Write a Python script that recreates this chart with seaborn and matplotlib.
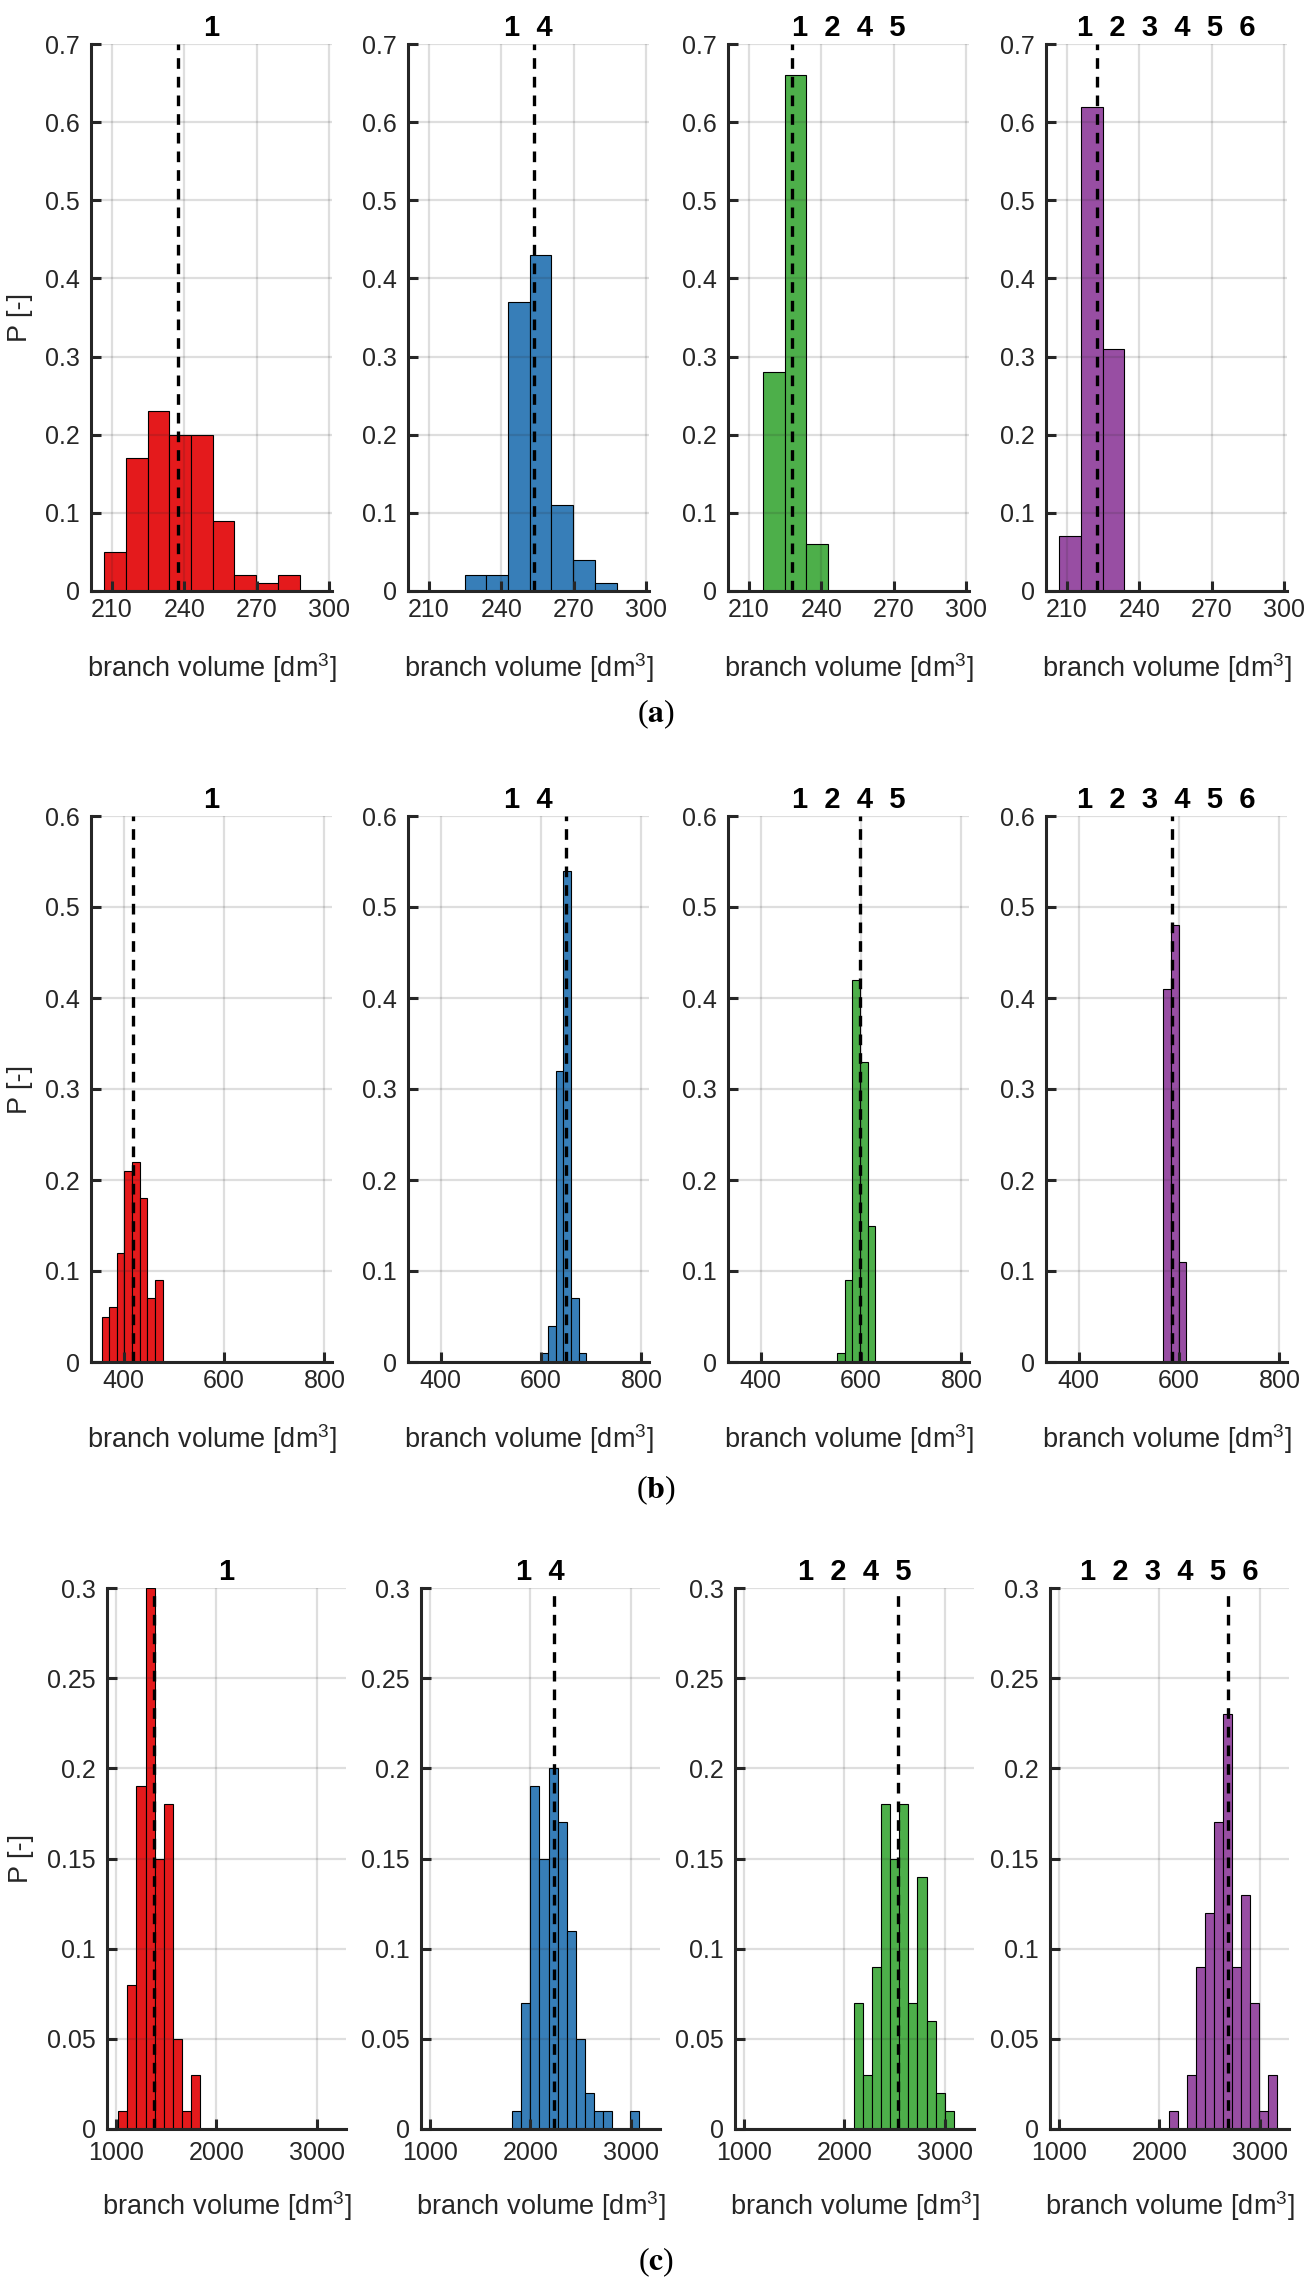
import numpy as np
import pandas as pd
import matplotlib
matplotlib.use("Agg")
import matplotlib.pyplot as plt
from matplotlib.ticker import FuncFormatter
import seaborn as sns

# colours of the four cases (one per column)
colors = ["#E41A1C", "#377EB8", "#4DAF4A", "#984EA3"]
panel_titles = ["1", "1  4", "1  2  4  5", "1  2  3  4  5  6"]
row_tags = ["a", "b", "c"]

# row (a): branch volume histograms
a_bin_start = [206.7, 224.7, 215.7, 206.7]
a_bin_width = 9.0
a_prob = [
    [0.05, 0.17, 0.23, 0.20, 0.20, 0.09, 0.02, 0.01, 0.02],
    [0.02, 0.02, 0.37, 0.43, 0.11, 0.04, 0.01],
    [0.28, 0.66, 0.06],
    [0.07, 0.62, 0.31],
]
a_mean = [237.4, 253.5, 227.6, 222.6]
a_xlim = (201.3, 301.1)
a_xticks = [210, 240, 270, 300]
a_yticks = [0, 0.1, 0.2, 0.3, 0.4, 0.5, 0.6, 0.7]

# row (b)
b_bin_start = [356.0, 599.0, 552.5, 569.0]
b_bin_width = 15.2
b_prob = [
    [0.05, 0.06, 0.12, 0.21, 0.22, 0.18, 0.07, 0.09],
    [0.01, 0.04, 0.32, 0.54, 0.07, 0.01],
    [0.01, 0.09, 0.42, 0.33, 0.15],
    [0.41, 0.48, 0.11],
]
b_mean = [419.4, 649.6, 598.3, 586.8]
b_xlim = (335, 815)
b_xticks = [400, 600, 800]
b_yticks = [0, 0.1, 0.2, 0.3, 0.4, 0.5, 0.6]

# row (c)
c_bin_start = [1025, 1820, 2096, 2093]
c_bin_width = 90.0
c_prob = [
    [0.01, 0.08, 0.19, 0.30, 0.15, 0.18, 0.05, 0.01, 0.03],
    [0.01, 0.07, 0.19, 0.15, 0.20, 0.17, 0.11, 0.05, 0.02, 0.01, 0.01, 0, 0, 0.01],
    [0.07, 0.03, 0.09, 0.18, 0.15, 0.18, 0.07, 0.14, 0.06, 0.02, 0.01],
    [0.01, 0, 0.03, 0.09, 0.12, 0.17, 0.23, 0.09, 0.13, 0.07, 0.01, 0.03],
]
c_mean = [1375, 2234, 2535, 2678]
c_xlim = (912, 3288)
c_xticks = [1000, 2000, 3000]
c_yticks = [0, 0.05, 0.1, 0.15, 0.2, 0.25, 0.3]

rows = [
    (a_bin_start, a_bin_width, a_prob, a_mean, a_xlim, a_xticks, a_yticks),
    (b_bin_start, b_bin_width, b_prob, b_mean, b_xlim, b_xticks, b_yticks),
    (c_bin_start, c_bin_width, c_prob, c_mean, c_xlim, c_xticks, c_yticks),
]

sns.set_theme(style="white")
plt.rcParams["font.family"] = ["Liberation Sans", "DejaVu Sans"]
plt.rcParams["mathtext.fontset"] = "custom"
plt.rcParams["mathtext.rm"] = "Liberation Sans"
plt.rcParams["mathtext.it"] = "Liberation Sans:italic"
plt.rcParams["mathtext.bf"] = "Liberation Sans:bold"

dark = "#262626"
W, H = 1313, 2284
fig = plt.figure(figsize=(W / 100, H / 100), dpi=100)

# axes boxes in pixels: (top, bottom) per row, left edges and width per row
row_tb = [(44, 591), (816, 1362), (1588, 2129)]
row_left = [[91, 408, 728, 1046], [91, 408, 728, 1046], [107, 421, 735, 1050]]
row_w = [241, 241, 239]
tag_y = [714, 1490, 2262]
xtick_pad = [5, 5, 8.5]   # the wide 1000 label needs to clear the y "0" label

for r, (start, width, prob, mean, xlim, xticks, yticks) in enumerate(rows):
    top, bot = row_tb[r]
    for c in range(4):
        left = row_left[r][c]
        ax = fig.add_axes([left / W, 1 - bot / H, row_w[r] / W, (bot - top) / H])
        edges = [start[c] + width * i for i in range(len(prob[c]) + 1)]
        df = pd.DataFrame({
            "volume": [(edges[i] + edges[i + 1]) / 2 for i in range(len(prob[c]))],
            "p": prob[c],
        })
        sns.histplot(data=df, x="volume", weights="p", bins=edges, color=colors[c],
                     alpha=1, edgecolor="black", linewidth=0.8, ax=ax)
        ax.axvline(mean[c], color="black", lw=2.4, ls=(0, (3.2, 2.4)), zorder=3)

        ax.set_xlim(*xlim)
        ax.set_ylim(0, yticks[-1])
        ax.set_xticks(xticks)
        ax.set_yticks(yticks)
        ax.yaxis.set_major_formatter(FuncFormatter(lambda v, p: f"{v:g}"))
        ax.grid(True, color=dark, alpha=0.15, linewidth=1.6)
        ax.set_axisbelow(False)
        sns.despine(ax=ax)
        for s in ["left", "bottom"]:
            ax.spines[s].set_visible(True)
            ax.spines[s].set_color(dark)
            ax.spines[s].set_linewidth(2.2)
            ax.spines[s].set_zorder(5)
        ax.tick_params(direction="in", length=7, width=2.2, color=dark,
                       labelcolor=dark, labelsize=18,
                       bottom=True, left=True, top=False, right=False)
        ax.tick_params(axis="x", pad=xtick_pad[r])
        ax.tick_params(axis="y", pad=8)

        ax.set_title(panel_titles[c], fontsize=21, fontweight="bold",
                     color="black", pad=6)
        ax.set_xlabel("branch volume [dm$^3$]", fontsize=19.5, color=dark)
        # label top placed a fixed distance below the axis in pixels
        ax.xaxis.set_label_coords(0.5, -60 / (bot - top))
        if c == 0:
            ax.set_ylabel("P [-]", fontsize=19.5, color=dark)
            ax.yaxis.set_label_coords(-0.24 - (left - 91) / row_w[r], 0.5)
        else:
            ax.set_ylabel("")

    fig.text(656 / W, 1 - tag_y[r] / H, f"($\\mathbf{{{row_tags[r]}}}$)",
             ha="center", va="center", fontsize=23, color="black",
             family="Liberation Serif", math_fontfamily="stix")

fig.savefig("out.png", dpi=100)
